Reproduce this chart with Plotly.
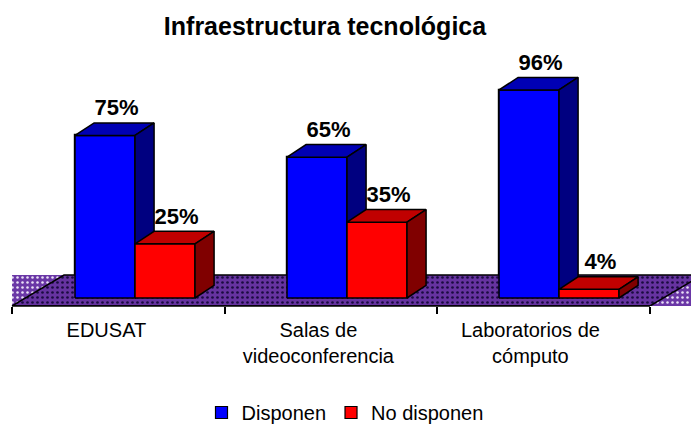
import plotly.graph_objects as go

# ---- data ----
categories = ["EDUSAT", "Salas de<br>videoconferencia", "Laboratorios de<br>cómputo"]
series_names = ["Disponen", "No disponen"]
disponen = [75, 65, 96]
no_disponen = [25, 35, 4]

# ---- styling / geometry (axis units) ----
FONT = "Liberation Sans, Arial, sans-serif"
front_colors = ["#0000FF", "#FF0000"]
top_colors = ["#0000B4", "#C00000"]
side_colors = ["#000080", "#800000"]
W = 0.283          # bar width (category units)
DU, DV = 0.09, 5.8 # 3D depth offsets
X_RANGE = [-0.6368, 2.6226]
Y_RANGE = [-3.69, 137.52]
B_LEFT, B_STEP = -0.58, 1.003     # category boundaries
FLOOR_DU, FLOOR_DV = 0.245, 14.3

n = len(categories)
bounds = [B_LEFT + k * B_STEP for k in range(n + 1)]
series = [disponen, no_disponen]
offsets = [-W, 0.0]   # left edge relative to category center

fig = go.Figure()

# legend-bearing bars (front faces, lying beneath the 3D drawing)
for s, vals in enumerate(series):
    fig.add_trace(go.Bar(
        x=[i + offsets[s] + W / 2 for i in range(n)], y=vals, width=W,
        name=series_names[s], marker=dict(color=front_colors[s], line=dict(color="black", width=1.2)),
        hoverinfo="skip"))

# background (wall) strip and floor
y0 = Y_RANGE[0]
fig.add_trace(go.Scatter(
    x=[bounds[0], X_RANGE[1] + 0.2, X_RANGE[1] + 0.2, bounds[0], bounds[0]],
    y=[y0, y0, y0 + FLOOR_DV, y0 + FLOOR_DV, y0],
    fill="toself", mode="lines", line=dict(width=0), fillcolor="#6A37A6",
    fillpattern=dict(shape=".", bgcolor="#6A37A6", fgcolor="#E8E0F5", size=5, solidity=0.2, fillmode="replace"),
    showlegend=False, hoverinfo="skip"))
fig.add_trace(go.Scatter(
    x=[bounds[0], bounds[-1], bounds[-1] + FLOOR_DU, bounds[0] + FLOOR_DU, bounds[0]],
    y=[y0, y0, y0 + FLOOR_DV, y0 + FLOOR_DV, y0],
    fill="toself", mode="lines", line=dict(color="black", width=1.5), fillcolor="#6633A0",
    fillpattern=dict(shape=".", bgcolor="#6633A0", fgcolor="#1A0A40", size=5, solidity=0.22, fillmode="replace"),
    showlegend=False, hoverinfo="skip"))

# 3D faces
for s, vals in enumerate(series):
    fx, fy, tx, ty, sx, sy = [], [], [], [], [], []
    for i, v in enumerate(vals):
        xl = i + offsets[s]
        xr = xl + W
        fx += [xl, xr, xr, xl, xl, None]
        fy += [0, 0, v, v, 0, None]
        tx += [xl, xr, xr + DU, xl + DU, xl, None]
        ty += [v, v, v + DV, v + DV, v, None]
        sx += [xr, xr + DU, xr + DU, xr, xr, None]
        sy += [0, DV, v + DV, v, 0, None]
    for xs, ys, col in ((fx, fy, front_colors[s]), (tx, ty, top_colors[s]), (sx, sy, side_colors[s])):
        fig.add_trace(go.Scatter(x=xs, y=ys, fill="toself", mode="lines", fillcolor=col,
                                 line=dict(color="black", width=1.5), showlegend=False, hoverinfo="skip"))

# value labels
for s, vals in enumerate(series):
    fig.add_trace(go.Scatter(
        x=[i + offsets[s] + W / 2 + DU * 0.6 for i in range(n)], y=[v + DV + 1.0 for v in vals],
        mode="text", text=[f"{v}%" for v in vals], textposition="top center",
        textfont=dict(family=FONT, size=22, color="black", weight="bold"),
        showlegend=False, hoverinfo="skip", cliponaxis=False))

# invisible trace for secondary axis (category labels)
fig.add_trace(go.Scatter(x=[None], y=[None], xaxis="x2", showlegend=False, hoverinfo="skip"))

fig.add_shape(type="line", xref="x", yref="paper", x0=bounds[0], x1=bounds[-1], y0=0, y1=0,
              line=dict(color="black", width=1.5), layer="above")

fig.update_layout(
    width=691, height=426, autosize=False,
    margin=dict(l=0, r=0, t=0, b=120, autoexpand=False),
    paper_bgcolor="white", plot_bgcolor="white",
    barmode="overlay", bargap=0,
    title=dict(text="<b>Infraestructura tecnológica</b>", x=325 / 691, xanchor="center", xref="container",
               y=1 - 26 / 426, yanchor="middle", yref="container",
               font=dict(family=FONT, size=25, color="black")),
    xaxis=dict(range=X_RANGE, tickvals=bounds, ticktext=[""] * len(bounds), ticks="outside",
               ticklen=7, tickwidth=1.5, tickcolor="black", showline=False, showgrid=False,
               zeroline=False, fixedrange=True),
    xaxis2=dict(range=X_RANGE, overlaying="x", side="bottom", anchor="y",
                tickvals=[i - 0.135 for i in range(n)], ticktext=categories, ticks="",
                ticklabelstandoff=10, showline=False, showgrid=False, zeroline=False,
                tickfont=dict(family=FONT, size=20, color="black")),
    yaxis=dict(range=Y_RANGE, visible=False, fixedrange=True),
    legend=dict(orientation="h", x=345 / 691, xanchor="center", y=-126 / 306, yanchor="bottom",
                font=dict(family=FONT, size=20, color="black"), bgcolor="rgba(0,0,0,0)",
                itemclick=False),
    showlegend=True,
)

fig.write_html("out.html", config={"displayModeBar": False},
               post_script="document.body.style.margin='0';")
